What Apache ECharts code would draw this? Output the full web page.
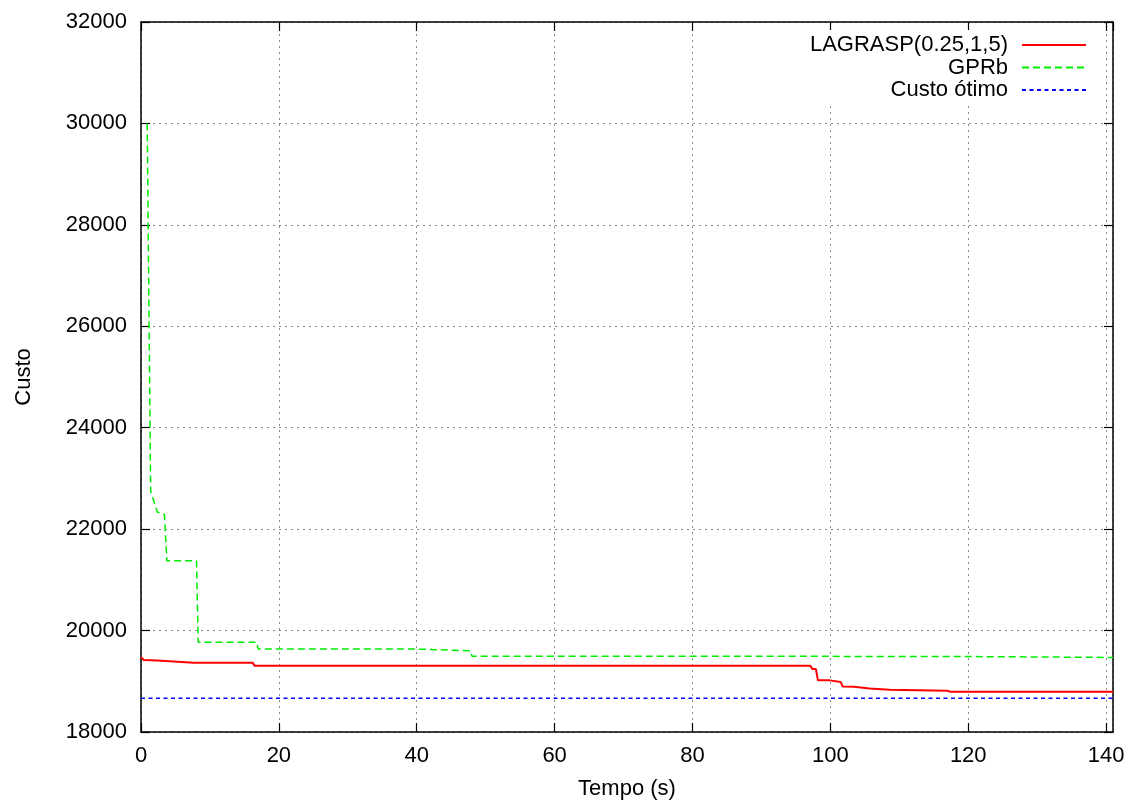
<!DOCTYPE html>
<html>
<head>
<meta charset="utf-8">
<script src="https://cdn.jsdelivr.net/npm/echarts@6/dist/echarts.min.js"></script>
<style>
html,body{margin:0;padding:0;background:#fff;}
#chart{width:1131px;height:805px;}
</style>
</head>
<body>
<div id="chart"></div>
<script>
// LAGRASP(0.25,1,5)
const lagraspT = [0, 0.4, 2.4, 2.6, 7.6, 16.2, 16.5, 97.1, 97.4, 97.9, 98.2, 99.9, 100.1, 101.5, 101.8, 103.4, 103.6, 105.7, 105.9, 108.6, 108.8, 117.0, 117.3, 141];
const lagraspV = [19476, 19420, 19410, 19384, 19364, 19364, 19305, 19305, 19240, 19240, 19018, 19018, 18985, 18985, 18895, 18890, 18860, 18860, 18838, 18835, 18818, 18815, 18795, 18795];
// GPRb
const gprbT = [0.9, 1.4, 2.36, 3.4, 3.75, 8.05, 8.3, 16.8, 17.0, 40.1, 40.3, 47.8, 48.0, 117.4, 117.6, 141];
const gprbV = [30000, 22750, 22337, 22290, 21375, 21375, 19770, 19770, 19635, 19635, 19600, 19600, 19495, 19490, 19470, 19470];
// Custo ótimo
const optT = [0, 141];
const optV = [18665, 18665];

const seriesNames = ['LAGRASP(0.25,1,5)', 'GPRb', 'Custo ótimo'];
const xTicks = {min: 0, max: 141, interval: 20};
const yTicks = {min: 18000, max: 32000, interval: 2000};

const zip = (t, v) => t.map((x, i) => [x, v[i]]);
const FONT = "'Liberation Sans', Arial, Helvetica, sans-serif";

const chart = echarts.init(document.getElementById('chart'), null, {renderer: 'canvas'});
const frameAxis = {
  axisLine: {show: true, onZero: false, lineStyle: {color: '#000', width: 1.5}},
  axisTick: {show: true, inside: true, length: 9, lineStyle: {color: '#000', width: 1.2}},
  axisLabel: {show: false},
  splitLine: {show: false}
};
chart.setOption({
  animation: false,
  backgroundColor: '#fff',
  textStyle: {fontFamily: FONT},
  grid: {left: 141, right: 18, top: 22, bottom: 70, containLabel: false},
  legend: {
    orient: 'vertical',
    align: 'right',
    right: 40,
    top: 30,
    padding: [4, 4, 4, 10],
    backgroundColor: '#fff',
    itemWidth: 64,
    itemHeight: 14,
    itemGap: 0.5,
    itemStyle: {opacity: 0},
    data: seriesNames,
    textStyle: {fontSize: 22, lineHeight: 18, color: '#000', fontFamily: FONT, padding: [0, 9, 0, 0]}
  },
  xAxis: [{
    type: 'value',
    min: xTicks.min, max: xTicks.max, interval: xTicks.interval,
    name: 'Tempo (s)', nameLocation: 'middle', nameGap: 46,
    nameTextStyle: {fontSize: 22, color: '#000', fontFamily: FONT},
    axisLine: {show: true, onZero: false, lineStyle: {color: '#000', width: 1.5}},
    axisTick: {show: true, inside: true, length: 9, lineStyle: {color: '#000', width: 1.2}},
    axisLabel: {fontSize: 22, color: '#000', margin: 13, fontFamily: FONT, showMaxLabel: false,
      formatter: v => String(v)},
    splitLine: {show: true, lineStyle: {color: '#8a8a8a', type: [2, 4], width: 1}}
  }, Object.assign({
    type: 'value', position: 'top',
    min: xTicks.min, max: xTicks.max, interval: xTicks.interval
  }, frameAxis)],
  yAxis: [{
    type: 'value',
    min: yTicks.min, max: yTicks.max, interval: yTicks.interval,
    name: 'Custo', nameLocation: 'middle', nameGap: 106, nameRotate: 90,
    nameTextStyle: {fontSize: 22, color: '#000', fontFamily: FONT},
    axisLine: {show: true, onZero: false, lineStyle: {color: '#000', width: 1.5}},
    axisTick: {show: true, inside: true, length: 9, lineStyle: {color: '#000', width: 1.2}},
    axisLabel: {fontSize: 22, color: '#000', margin: 14, fontFamily: FONT,
      formatter: v => String(v)},
    splitLine: {show: true, lineStyle: {color: '#8a8a8a', type: [2, 4], width: 1}}
  }, Object.assign({
    type: 'value', position: 'right',
    min: yTicks.min, max: yTicks.max, interval: yTicks.interval
  }, frameAxis)],
  series: [{
    name: seriesNames[0], type: 'line', data: zip(lagraspT, lagraspV),
    symbol: 'none', xAxisIndex: 0, yAxisIndex: 0,
    lineStyle: {color: '#ff0000', width: 2}, itemStyle: {color: '#ff0000'}, z: 5
  }, {
    name: seriesNames[1], type: 'line', data: zip(gprbT, gprbV),
    symbol: 'none', xAxisIndex: 0, yAxisIndex: 0,
    lineStyle: {color: '#00ee00', width: 1.5, type: [7, 4]}, itemStyle: {color: '#00ee00'}, z: 4
  }, {
    name: seriesNames[2], type: 'line', data: zip(optT, optV),
    symbol: 'none', xAxisIndex: 0, yAxisIndex: 0,
    lineStyle: {color: '#0000ff', width: 1.5, type: [4, 3.5]}, itemStyle: {color: '#0000ff'}, z: 3
  }]
});
</script>
</body>
</html>
